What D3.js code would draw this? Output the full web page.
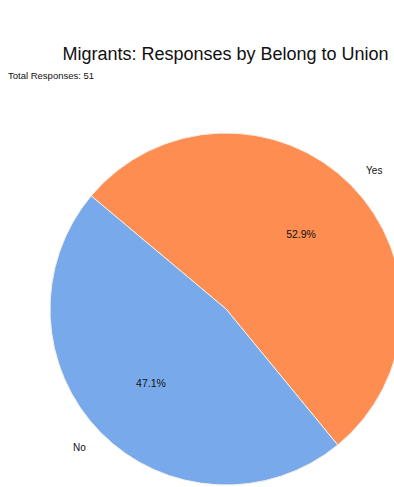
<!DOCTYPE html>
<html>
<head>
<meta charset="utf-8">
<script src="https://cdn.jsdelivr.net/npm/d3@7"></script>
<style>
  html, body { margin: 0; padding: 0; background: #fff; }
  svg { display: block; font-family: "Liberation Sans", Arial, sans-serif; }
</style>
</head>
<body>
<svg id="chart" width="394" height="487"></svg>
<script>
// Survey answers: "Do you belong to a union?"
const categories = ["Yes", "No"];
const counts = [27, 24];
const colors = ["#fd8d50", "#78aaeb"];
const titleText = "Migrants: Responses by Belong to Union";

const total = d3.sum(counts);
const width = 394, height = 487;
const cx = 226, cy = 309, r = 176;
// wedges laid out clockwise, first one starting 50° left of 12 o'clock
const startDeg = -50;

const svg = d3.select("#chart");

svg.append("text")
  .attr("x", 225.5).attr("y", 60)
  .attr("text-anchor", "middle")
  .attr("font-size", 18)
  .attr("fill", "#111")
  .text(titleText);

svg.append("text")
  .attr("x", 8).attr("y", 79)
  .attr("font-size", 9.5)
  .attr("fill", "#111")
  .text("Total Responses: " + total);

const data = categories.map((c, i) => ({ cat: c, value: counts[i], color: colors[i] }));

const pie = d3.pie()
  .value(d => d.value)
  .sort(null)
  .startAngle(startDeg * Math.PI / 180)
  .endAngle((startDeg + 360) * Math.PI / 180);

const arcs = pie(data);
const arc = d3.arc().innerRadius(0).outerRadius(r);

const g = svg.append("g").attr("transform", `translate(${cx},${cy})`);

g.selectAll("path.slice")
  .data(arcs)
  .join("path")
  .attr("class", "slice")
  .attr("d", arc)
  .attr("fill", d => d.data.color)
  .attr("stroke", "#f4efe8")
  .attr("stroke-width", 1);

const pctArc = d3.arc().innerRadius(r * 0.6).outerRadius(r * 0.6);
g.selectAll("text.pct")
  .data(arcs)
  .join("text")
  .attr("class", "pct")
  .attr("transform", d => `translate(${pctArc.centroid(d)})`)
  .attr("text-anchor", "middle")
  .attr("dy", "0.35em")
  .attr("font-size", 10.5)
  .attr("fill", "#111")
  .text(d => (d.value / total * 100).toFixed(1) + "%");

const lblArc = d3.arc().innerRadius(r * 1.12).outerRadius(r * 1.12);
g.selectAll("text.lbl")
  .data(arcs)
  .join("text")
  .attr("class", "lbl")
  .attr("transform", d => `translate(${lblArc.centroid(d)})`)
  .attr("text-anchor", d => lblArc.centroid(d)[0] >= 0 ? "start" : "end")
  .attr("dy", "0.35em")
  .attr("font-size", 10)
  .attr("fill", "#111")
  .text(d => d.data.cat);
</script>
</body>
</html>
